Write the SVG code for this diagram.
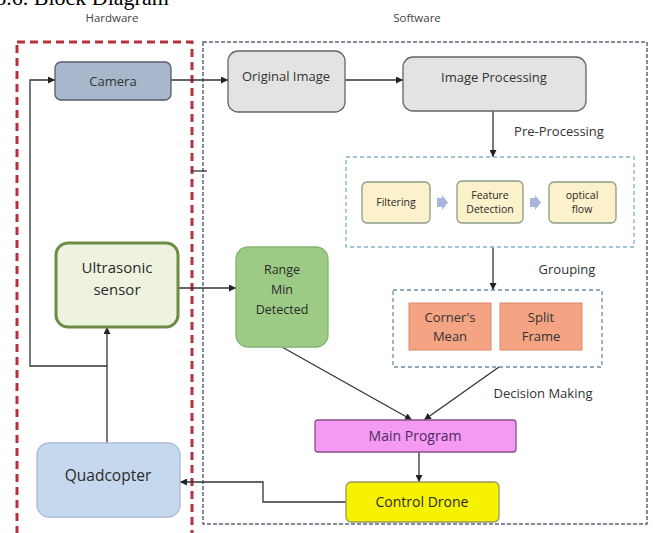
<svg xmlns="http://www.w3.org/2000/svg" width="653" height="533" viewBox="0 0 653 533">
<defs>
<marker id="ah" viewBox="0 0 10 10" refX="10" refY="5" markerWidth="7" markerHeight="7" markerUnits="userSpaceOnUse" orient="auto">
<path d="M0,0 L10,5 L0,10 z" fill="#222"/>
</marker>
<style>
text{font-family:"Open Sans","Liberation Sans",sans-serif;fill:#2a2a2a;text-anchor:middle}
.lbl{font-size:13px;fill:#333}
.hdr{font-size:11.5px;fill:#444}
.con{fill:none;stroke:#333;stroke-width:1.3}
.arr{marker-end:url(#ah)}
.blk{fill:#a9b6dc}
</style>
</defs>
<rect width="653" height="533" fill="#fff"/>
<text x="82" y="5" style="font-family:'Liberation Serif',serif;font-size:22px;fill:#000">3.6. Block Diagram</text>
<text class="hdr" x="112" y="22">Hardware</text>
<text class="hdr" x="417" y="22">Software</text>

<g id="hardware-box"><rect x="17" y="42" width="175" height="500" fill="none" stroke="#b5323f" stroke-width="3" stroke-dasharray="8,5"/></g>
<g id="software-box"><rect x="203" y="42" width="444" height="482" fill="none" stroke="#5a6878" stroke-width="1.5" stroke-dasharray="4,2"/></g>

<g id="connectors">
<path class="con arr" d="M171,80 L228,80"/>
<path class="con arr" d="M345,80 L403,80"/>
<path class="con" d="M191,171 L207,171"/>
<path class="con arr" d="M493,111 L493,157"/>
<path class="con arr" d="M493,247 L493,290"/>
<path class="con arr" d="M178,288 L236,288"/>
<path class="con arr" d="M107,443 L107,327"/>
<path class="con arr" d="M107,366 L30,366 L30,80 L55,80"/>
<path class="con arr" d="M282,347 L412,420"/>
<path class="con arr" d="M499,367 L424,420"/>
<path class="con arr" d="M419,452 L419,482"/>
<path class="con arr" d="M346,502 L263,502 L263,482 L180,482"/>
</g>

<g id="camera"><rect x="55" y="62" width="116" height="38" rx="6" fill="#a8b7cb" stroke="#555e6a" stroke-width="1.3"/><text class="lbl" x="113" y="86">Camera</text></g>
<g id="original-image"><rect x="228" y="51" width="117" height="61" rx="10" fill="#e3e3e3" stroke="#666" stroke-width="1.3"/><text class="lbl" x="286" y="81">Original Image</text></g>
<g id="image-processing"><rect x="403" y="57" width="183" height="54" rx="10" fill="#e3e3e3" stroke="#666" stroke-width="1.3"/><text class="lbl" x="494" y="82">Image Processing</text></g>
<text class="lbl" x="559" y="136">Pre-Processing</text>

<g id="pre-processing"><rect x="346" y="157" width="288" height="90" fill="none" stroke="#7fb3cc" stroke-width="1.3" stroke-dasharray="4,3"/></g>
<g id="filtering"><rect x="362" y="182" width="68" height="41" rx="5" fill="#fbf1cb" stroke="#8e9a8a" stroke-width="1.3"/><text x="396" y="206" style="font-size:10.5px">Filtering</text></g>
<path class="blk" d="M437,198 L442,198 L442,195 L448,202.5 L442,210 L442,207 L437,207 z"/>
<g id="feature-detection"><rect x="457" y="181" width="66" height="42" rx="5" fill="#fbf1cb" stroke="#8e9a8a" stroke-width="1.3"/><text x="490" y="199" style="font-size:10.5px">Feature</text><text x="490" y="213" style="font-size:10.5px">Detection</text></g>
<path class="blk" d="M530,198 L535,198 L535,195 L541,202.5 L535,210 L535,207 L530,207 z"/>
<g id="optical-flow"><rect x="549" y="182" width="67" height="41" rx="5" fill="#fbf1cb" stroke="#8e9a8a" stroke-width="1.3"/><text x="582" y="199" style="font-size:10.5px">optical</text><text x="582" y="213" style="font-size:10.5px">flow</text></g>

<text class="lbl" x="567" y="274">Grouping</text>
<g id="grouping"><rect x="393" y="290" width="209" height="77" fill="none" stroke="#6f8ca0" stroke-width="1.3" stroke-dasharray="4,3"/></g>
<g id="corners-mean"><rect x="409" y="303" width="82" height="47" fill="#f5a483" stroke="#d98a68" stroke-width="1"/><text class="lbl" x="450" y="322">Corner's</text><text class="lbl" x="450" y="341">Mean</text></g>
<g id="split-frame"><rect x="500" y="303" width="82" height="47" fill="#f5a483" stroke="#d98a68" stroke-width="1"/><text class="lbl" x="541" y="322">Split</text><text class="lbl" x="541" y="341">Frame</text></g>

<g id="ultrasonic"><rect x="56" y="243" width="122" height="84" rx="12" fill="#eef3df" stroke="#6f8c45" stroke-width="3"/><text x="117" y="273" style="font-size:15px">Ultrasonic</text><text x="117" y="295" style="font-size:15px">sensor</text></g>
<g id="range-min"><rect x="236" y="247" width="92" height="100" rx="12" fill="#9dcb86" stroke="#86b46f" stroke-width="1.3"/><text x="282" y="274" style="font-size:12.5px">Range</text><text x="282" y="294" style="font-size:12.5px">Min</text><text x="282" y="314" style="font-size:12.5px">Detected</text></g>

<text class="lbl" x="543" y="398">Decision Making</text>
<g id="main-program"><rect x="315" y="420" width="201" height="32" rx="3" fill="#f59af4" stroke="#8a4f8a" stroke-width="1.3"/><text x="415" y="441" style="font-size:14px;fill:#4b2d5c">Main Program</text></g>
<g id="control-drone"><rect x="346" y="482" width="153" height="40" rx="5" fill="#f7f200" stroke="#9a9860" stroke-width="1.3"/><text x="422" y="507" style="font-size:14px">Control Drone</text></g>
<g id="quadcopter"><rect x="37" y="443" width="143" height="74" rx="12" fill="#c5d8ee" stroke="#a9bcd2" stroke-width="1.3"/><text x="108" y="481" style="font-size:15.5px">Quadcopter</text></g>
</svg>
